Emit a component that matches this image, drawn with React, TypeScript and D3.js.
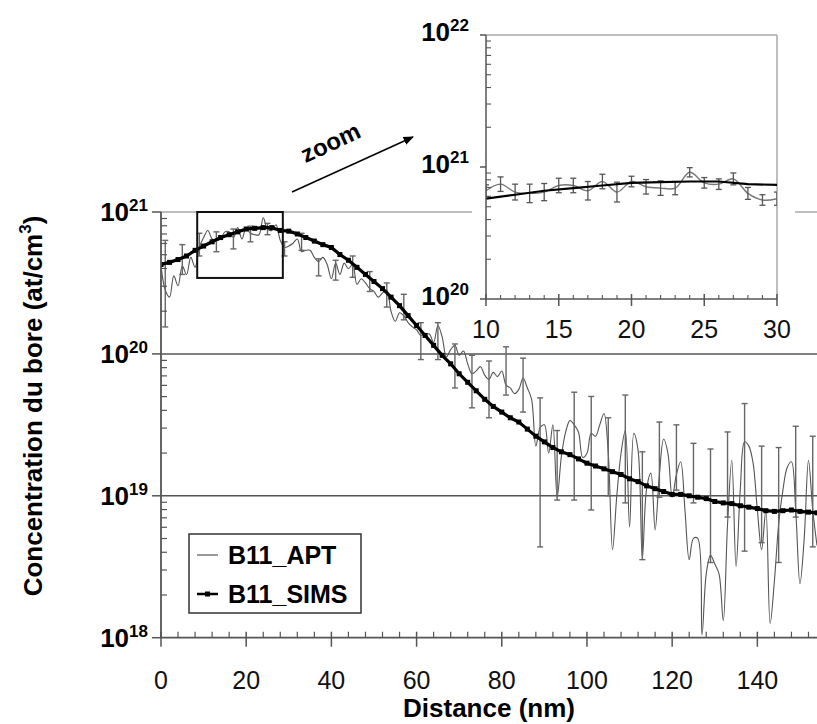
import React from "react";
import * as d3 from "d3";

// ---------- DATA (log10 of concentration, at/cm3) ----------
// APT profile sampled every 1 nm, from 0 to 154 nm
const aptStart = 0;
const aptLog10 = [
  20.62, 20.45, 20.40, 20.55, 20.48, 20.62, 20.56, 20.68, 20.61, 20.75,
  20.82, 20.87, 20.81, 20.80, 20.81, 20.86, 20.86, 20.82, 20.89, 20.81,
  20.89, 20.85, 20.84, 20.84, 20.96, 20.88, 20.87, 20.91, 20.80, 20.75,
  20.76, 20.78, 20.81, 20.72, 20.73, 20.73, 20.68, 20.65, 20.68, 20.63,
  20.53, 20.64, 20.56, 20.64, 20.60, 20.63, 20.49, 20.53, 20.50, 20.46,
  20.44, 20.40, 20.43, 20.45, 20.30, 20.23, 20.29, 20.27, 20.22, 20.19,
  20.17, 20.13, 20.14, 20.14, 20.08, 20.20, 20.12, 19.98, 20.03, 20.06,
  19.99, 20.02, 19.93, 19.86, 19.88, 19.91, 19.85, 19.82, 19.87, 19.84,
  19.88, 19.78, 19.76, 19.72, 19.75, 19.83, 19.76, 19.68, 19.35, 19.48,
  19.50, 19.30, 19.50, 18.99, 19.28, 19.45, 19.53, 19.50, 19.45, 19.27,
  19.30, 19.44, 19.42, 19.50, 19.58, 19.30, 18.62, 19.00, 19.30, 19.46,
  18.78, 19.44, 19.32, 18.56, 19.05, 19.16, 18.76, 19.15, 19.40, 19.30,
  18.99, 19.15, 19.24, 18.90, 18.55, 18.70, 18.70, 18.02, 18.45, 18.58,
  18.52, 18.45, 18.12, 18.80, 19.25, 18.50, 19.05, 19.38, 19.35, 19.23,
  18.90, 18.62, 18.90, 18.10, 18.40, 18.80, 19.04, 19.20, 19.24, 18.90,
  18.38, 18.70, 19.25, 18.90, 18.65,
];

// APT error bars in the main plot: one every 4 nm starting at 1 nm
const errStart = 1;
const errStep = 4;
const errTopLog10 = [
  20.80, 20.77, 20.85, 20.86, 20.88, 20.90, 20.92, 20.79, 20.85, 20.67,
  20.66, 20.69, 20.58, 20.50, 20.42, 20.22, 20.22, 20.07, 19.99, 19.95,
  20.05, 19.97, 19.69, 19.46, 19.73, 19.70, 19.55, 19.71, 19.31, 19.52,
  19.50, 19.37, 19.33, 19.45, 19.65, 19.35, 19.34, 19.49, 19.42,
];
const errBottomLog10 = [
  20.19, 20.56, 20.69, 20.72, 20.74, 20.79, 20.84, 20.69, 20.73, 20.55,
  20.52, 20.54, 20.44, 20.33, 20.24, 19.96, 19.96, 19.76, 19.62, 19.55,
  19.71, 19.59, 18.64, 18.97, 18.97, 18.90, 19.00, 18.95, 18.55, 18.99,
  19.04, 18.95, 18.53, 18.85, 18.61, 18.67, 18.53, 18.85, 18.64,
];

// SIMS profile sampled every 2 nm, from 0 to 154 nm
const simsStep = 2;
const simsLog10 = [
  20.63, 20.645, 20.665, 20.69, 20.73, 20.76, 20.79, 20.82, 20.84, 20.86,
  20.88, 20.885, 20.89, 20.89, 20.87, 20.865, 20.845, 20.82, 20.795, 20.77,
  20.75, 20.70, 20.66, 20.61, 20.56, 20.51, 20.46, 20.40, 20.34, 20.27,
  20.20, 20.13, 20.06, 19.99, 19.93, 19.86, 19.80, 19.74, 19.68, 19.63,
  19.59, 19.55, 19.52, 19.47, 19.42, 19.38, 19.34, 19.31, 19.29, 19.26,
  19.23, 19.21, 19.19, 19.17, 19.15, 19.12, 19.10, 19.07, 19.05, 19.03,
  19.01, 19.01, 19.00, 18.99, 18.98, 18.96, 18.95, 18.945, 18.93, 18.92,
  18.91, 18.895, 18.89, 18.895, 18.90, 18.89, 18.885, 18.88,
];

// Inset (zoom 10-30 nm): half-width (decades) of the APT error bar at each nm
const insetStart = 10;
const insetEnd = 30;
const insetErrHalf = [
  0.045, 0.055, 0.06, 0.07, 0.065, 0.055, 0.055, 0.07, 0.055, 0.075,
  0.04, 0.055, 0.055, 0.05, 0.035, 0.04, 0.04, 0.045, 0.045, 0.04, 0.05,
];

// zoom rectangle drawn on the main plot (data units)
const zoomBoxNm = [8.5, 28.6];
const zoomBoxConc = [3.43e20, 1e21];

const xTicksMain = [0, 20, 40, 60, 80, 100, 120, 140];
const xTicksInset = [10, 15, 20, 25, 30];
const decadesMain = [18, 19, 20, 21];
const decadesInset = [20, 21, 22];
const legendLabels = ["B11_APT", "B11_SIMS"];

const FONT = "'Liberation Sans', Arial, Helvetica, sans-serif";

type P = { x: number; c: number };

export default function App() {
  const W = 817;
  const H = 724;

  // main scales
  const x = d3.scaleLinear().domain([0, 154]).range([161, 817]);
  const y = d3.scaleLog().domain([1e18, 1e21]).range([637.7, 212]);
  const yClamp = (c: number) => y(Math.max(1e18, Math.min(1e21, c)));

  const apt: P[] = aptLog10.map((v, i) => ({ x: aptStart + i, c: Math.pow(10, v) }));
  const sims: P[] = simsLog10.map((v, i) => ({ x: i * simsStep, c: Math.pow(10, v) }));
  const errs = errTopLog10.map((t, i) => ({
    x: errStart + i * errStep,
    top: Math.pow(10, t),
    bot: Math.pow(10, errBottomLog10[i]),
  }));

  const aptLine = d3
    .line<P>()
    .x((d) => x(d.x))
    .y((d) => y(d.c))
    .curve(d3.curveCatmullRom.alpha(0.5));
  const simsLine = d3
    .line<P>()
    .x((d) => x(d.x))
    .y((d) => y(d.c));

  // inset scales
  const ix = d3.scaleLinear().domain([insetStart, insetEnd]).range([486, 777]);
  const iy = d3.scaleLog().domain([1e20, 1e22]).range([299, 35]);
  const aptInset = apt.filter((d) => d.x >= insetStart && d.x <= insetEnd);
  const simsInset = sims.filter((d) => d.x >= insetStart && d.x <= insetEnd);
  const insetApt = d3
    .line<P>()
    .x((d) => ix(d.x))
    .y((d) => iy(d.c))
    .curve(d3.curveCatmullRom.alpha(0.5));
  const insetSims = d3
    .line<P>()
    .x((d) => ix(d.x))
    .y((d) => iy(d.c));

  const axisColor = "#555";
  const lightGrid = "#a8a8a8";

  // minor ticks
  const minorMain: number[] = [];
  decadesMain.slice(0, -1).forEach((d) => {
    for (let k = 2; k <= 9; k++) minorMain.push(k * Math.pow(10, d));
  });
  const minorInset: number[] = [];
  decadesInset.slice(0, -1).forEach((d) => {
    for (let k = 2; k <= 9; k++) minorInset.push(k * Math.pow(10, d));
  });
  const xMinorMain = d3.range(0, 155, 4).filter((v) => v % 20 !== 0);
  const xMinorInset = d3.range(insetStart, insetEnd + 1, 1).filter((v) => v % 5 !== 0);

  return (
    <div style={{ position: "absolute", left: 0, top: 0 }}>
      <svg width={W} height={H} style={{ display: "block", background: "#fff" }} fontFamily={FONT}>
        <defs>
          <clipPath id="mainClip">
            <rect x={161} y={200} width={656} height={440} />
          </clipPath>
          <clipPath id="insetClip">
            <rect x={486} y={35} width={291} height={264} />
          </clipPath>
          <marker id="arrowHead" viewBox="0 0 10 10" refX="9" refY="5" markerWidth="7" markerHeight="7" orient="auto">
            <path d="M0,1 L10,5 L0,9 z" fill="#000" />
          </marker>
        </defs>

        {/* gridlines */}
        <line x1={x(0)} x2={W} y1={y(1e21)} y2={y(1e21)} stroke={lightGrid} strokeWidth={1.5} />
        {[1e20, 1e19].map((v) => (
          <line key={v} x1={x(0)} x2={W} y1={y(v)} y2={y(v)} stroke="#555" strokeWidth={1.5} />
        ))}

        {/* main data */}
        <g clipPath="url(#mainClip)">
          <path d={aptLine(apt) || ""} fill="none" stroke="#555" strokeWidth={1.1} />
          {errs.map((e) => {
            const cx = x(e.x);
            const y1 = yClamp(e.top);
            const y2 = yClamp(e.bot);
            return (
              <g key={e.x} stroke="#666" strokeWidth={1.4}>
                <line x1={cx} x2={cx} y1={y1} y2={y2} />
                <line x1={cx - 3} x2={cx + 3} y1={y1} y2={y1} />
                {e.bot > 1e18 && <line x1={cx - 3} x2={cx + 3} y1={y2} y2={y2} />}
              </g>
            );
          })}
          <path d={simsLine(sims) || ""} fill="none" stroke="#000" strokeWidth={3.2} />
          {sims.map((d) => (
            <rect key={d.x} x={x(d.x) - 2.5} y={y(d.c) - 2.5} width={5} height={5} fill="#000" />
          ))}
        </g>

        {/* zoom box */}
        <rect
          x={x(zoomBoxNm[0])}
          y={y(zoomBoxConc[1])}
          width={x(zoomBoxNm[1]) - x(zoomBoxNm[0])}
          height={y(zoomBoxConc[0]) - y(zoomBoxConc[1])}
          fill="none"
          stroke="#111"
          strokeWidth={2}
        />

        {/* main axes */}
        <line x1={x(0)} x2={x(0)} y1={y(1e21)} y2={y(1e18)} stroke={axisColor} strokeWidth={1.8} />
        <line x1={x(0)} x2={W} y1={y(1e18)} y2={y(1e18)} stroke={axisColor} strokeWidth={1.8} />
        {decadesMain.map((d) => (
          <line key={d} x1={x(0) - 9} x2={x(0)} y1={y(Math.pow(10, d))} y2={y(Math.pow(10, d))} stroke={axisColor} strokeWidth={1.5} />
        ))}
        {minorMain.map((v) => (
          <line key={v} x1={x(0)} x2={x(0) + 6} y1={y(v)} y2={y(v)} stroke={axisColor} strokeWidth={1.2} />
        ))}
        {xTicksMain.map((t) => (
          <line key={t} x1={x(t)} x2={x(t)} y1={y(1e18) - 6} y2={y(1e18) + 9} stroke={axisColor} strokeWidth={1.5} />
        ))}
        {xMinorMain.map((t) => (
          <line key={t} x1={x(t)} x2={x(t)} y1={y(1e18) - 6} y2={y(1e18)} stroke={axisColor} strokeWidth={1.2} />
        ))}
        {xTicksMain.map((t) => (
          <text key={t} x={x(t)} y={689} textAnchor="middle" fontSize={25} fill="#111">
            {t}
          </text>
        ))}
        {decadesMain.map((d) => (
          <text key={d} x={148} y={y(Math.pow(10, d)) + 9} textAnchor="end" fontWeight="bold" fontSize={26} fill="#000">
            <tspan>10</tspan>
            <tspan dy={-10} fontSize={17}>
              {d}
            </tspan>
          </text>
        ))}
        <text x={489} y={717} textAnchor="middle" fontWeight="bold" fontSize={26} fill="#000">
          Distance (nm)
        </text>
        <text transform="translate(42,406) rotate(-90)" textAnchor="middle" fontWeight="bold" fontSize={26} fill="#000">
          <tspan>Concentration du bore (at/cm</tspan>
          <tspan dy={-11} fontSize={17}>3</tspan>
          <tspan dy={11}>)</tspan>
        </text>

        {/* legend */}
        <rect x={189} y={534} width={172} height={79} fill="#fff" stroke="#333" strokeWidth={1.5} />
        <line x1={197} x2={218} y1={555} y2={555} stroke="#555" strokeWidth={1.2} />
        <line x1={197} x2={218} y1={594} y2={594} stroke="#000" strokeWidth={2.5} />
        <rect x={205} y={591.5} width={5} height={5} fill="#000" />
        <text x={228} y={564} fontWeight="bold" fontSize={25} fill="#000">
          {legendLabels[0]}
        </text>
        <text x={228} y={603} fontWeight="bold" fontSize={25} fill="#000">
          {legendLabels[1]}
        </text>

        {/* zoom annotation */}
        <text transform="translate(334,150) rotate(-25)" textAnchor="middle" fontWeight="bold" fontSize={24} fill="#000">
          zoom
        </text>
        <line x1={292} y1={192} x2={413} y2={137} stroke="#000" strokeWidth={1.5} markerEnd="url(#arrowHead)" />

        {/* inset */}
        <rect x={472} y={0} width={323} height={345} fill="#fff" />
        <line x1={486} x2={777} y1={35} y2={35} stroke={lightGrid} strokeWidth={1.5} />
        <line x1={777} x2={777} y1={35} y2={299} stroke={lightGrid} strokeWidth={1.5} />
        <g clipPath="url(#insetClip)">
          <path d={insetApt(aptInset) || ""} fill="none" stroke="#777" strokeWidth={1.4} />
          {aptInset.map((d, i) => {
            const h = insetErrHalf[i];
            const lv = Math.log10(d.c);
            const y1 = iy(Math.pow(10, lv + h));
            const y2 = iy(Math.pow(10, lv - h));
            const cx = ix(d.x);
            return (
              <g key={d.x} stroke="#555" strokeWidth={1.3}>
                <line x1={cx} x2={cx} y1={y1} y2={y2} />
                <line x1={cx - 3} x2={cx + 3} y1={y1} y2={y1} />
                <line x1={cx - 3} x2={cx + 3} y1={y2} y2={y2} />
              </g>
            );
          })}
          <path d={insetSims(simsInset) || ""} fill="none" stroke="#000" strokeWidth={2.2} />
        </g>
        <line x1={486} x2={486} y1={35} y2={299} stroke={axisColor} strokeWidth={1.5} />
        <line x1={486} x2={777} y1={299} y2={299} stroke={axisColor} strokeWidth={1.5} />
        {decadesInset.map((d) => (
          <line key={d} x1={480} x2={486} y1={iy(Math.pow(10, d))} y2={iy(Math.pow(10, d))} stroke={axisColor} strokeWidth={1.5} />
        ))}
        {minorInset.map((v) => (
          <line key={v} x1={486} x2={491} y1={iy(v)} y2={iy(v)} stroke={axisColor} strokeWidth={1.1} />
        ))}
        {xTicksInset.map((t) => (
          <line key={t} x1={ix(t)} x2={ix(t)} y1={294} y2={306} stroke={axisColor} strokeWidth={1.5} />
        ))}
        {xMinorInset.map((t) => (
          <line key={t} x1={ix(t)} x2={ix(t)} y1={295} y2={299} stroke={axisColor} strokeWidth={1.1} />
        ))}
        {xTicksInset.map((t) => (
          <text key={t} x={ix(t)} y={338} textAnchor="middle" fontSize={25} fill="#111">
            {t}
          </text>
        ))}
        {decadesInset.map((d) => (
          <text key={d} x={469} y={iy(Math.pow(10, d)) + 6} textAnchor="end" fontWeight="bold" fontSize={26} fill="#000">
            <tspan>10</tspan>
            <tspan dy={-10} fontSize={17}>
              {d}
            </tspan>
          </text>
        ))}
      </svg>
    </div>
  );
}
